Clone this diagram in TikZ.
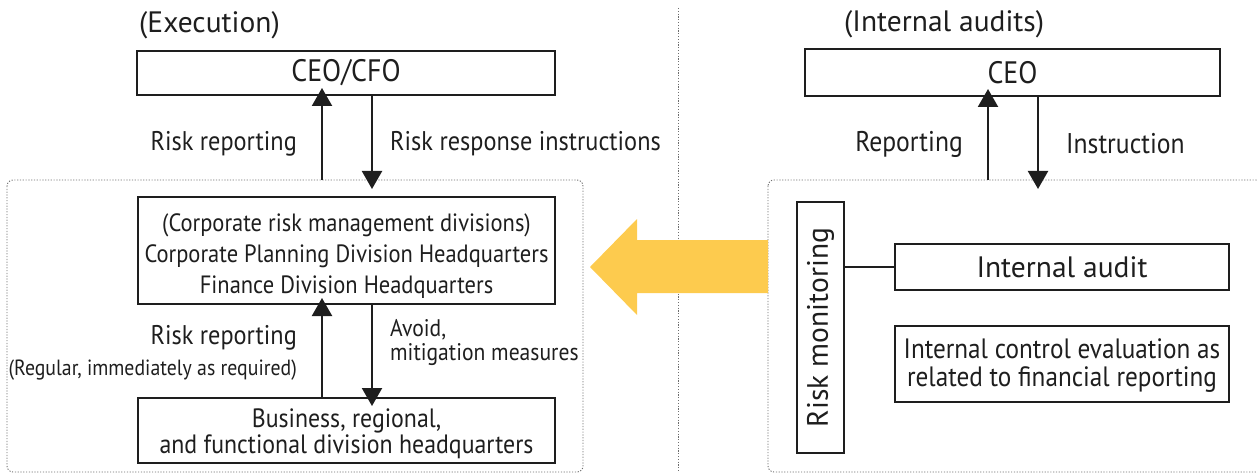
\documentclass[tikz,border=0pt]{standalone}
\usepackage{fontspec}
\setmainfont{PT Sans}
\newfontfamily\cond[FakeStretch=0.9]{PT Sans}
\usetikzlibrary{arrows.meta}
\definecolor{ink}{RGB}{30,30,30}
\definecolor{dotgray}{RGB}{110,110,110}
\definecolor{ylw}{RGB}{253,203,78}
\tikzset{
  box/.style={draw=ink, line width=2pt, fill=white, inner sep=0pt, align=center, text=ink},
  arr/.style={draw=ink, line width=2.2pt, -{Triangle[width=20pt,length=18pt]}},
  lbl/.style={inner sep=0pt, text=ink, font=\cond\fontsize{27}{30}\selectfont},
  dotbox/.style={draw=dotgray, line width=0.9pt, dash pattern=on 1.2pt off 1.6pt, rounded corners=6pt},
  head/.style={inner sep=0pt, anchor=west, text=ink, font=\fontsize{29.5}{32}\selectfont}
}
\begin{document}
\begin{tikzpicture}[x=1pt,y=-1pt]
\useasboundingbox (0,0) rectangle (1257,473);
% divider
\draw[dotgray, line width=0.9pt, dash pattern=on 1.2pt off 1.6pt] (678,8) -- (678,473);
% containers
\draw[dotbox] (7,180) rectangle (583,472);
\draw[dotbox] (768,180) rectangle (1262,472);
\coordinate (lc) at (295,180);
\coordinate (rc) at (1015,180);
% yellow arrow
\fill[ylw] (590,267) -- (637,219) -- (637,240) -- (768,240) -- (768,293) -- (637,293) -- (637,315) -- cycle;
% headings
\node[head] (hexe) at (139,25) {(Execution)};
\node[head] (hint) at (844,24) {(Internal audits)};
% left nodes
\node[box, minimum width=418pt, minimum height=44pt, font=\cond\fontsize{31}{32}\selectfont] (ceo) at (346,73) {CEO/CFO};
\node[box, minimum width=417pt, minimum height=107pt, font=\cond\fontsize{25}{31}\selectfont] (corp) at (346.5,250.5) {\rule{0pt}{28pt}(Corporate risk management divisions)\\Corporate Planning Division Headquarters\\Finance Division Headquarters};
\node[box, minimum width=417pt, minimum height=65pt, font=\cond\fontsize{26.5}{26}\selectfont] (bus) at (346.5,430.5) {\rule{0pt}{25pt}Business, regional,\\and functional division headquarters};
% left coordinates
\coordinate (ux) at (322,0);
\coordinate (dx) at (372,0);
\draw[arr] (lc -| ux) -- ([yshift=8pt]ceo.south -| ux);
\draw[arr] (ceo.south -| dx) -- ([yshift=-9pt]lc -| dx);
\draw[arr] (bus.north -| ux) -- ([yshift=7pt]corp.south -| ux);
\draw[arr] (corp.south -| dx) -- ([yshift=-9pt]bus.north -| dx);
\node[lbl, anchor=east] (l1) at (297,144) {Risk reporting};
\node[lbl, anchor=west] (l2) at (390,144) {Risk response instructions};
\node[lbl, anchor=east] (l3) at (297,338) {Risk reporting};
\node[lbl, anchor=east, font=\cond\fontsize{22}{24}\selectfont] (l4) at (297,370) {(Regular, immediately as required)};
\node[lbl, anchor=west, align=left, font=\cond\fontsize{24}{24}\selectfont] (l5) at (390,343) {Avoid,\\mitigation measures};
% right nodes
\node[box, minimum width=415pt, minimum height=47pt, font=\cond\fontsize{31}{32}\selectfont] (ceo2) at (1012.5,72.5) {CEO};
\coordinate (ux2) at (988,0);
\coordinate (dx2) at (1038,0);
\draw[arr] (rc -| ux2) -- ([yshift=8pt]ceo2.south -| ux2);
\draw[arr] (ceo2.south -| dx2) -- ([yshift=-9pt]rc -| dx2);
\node[lbl, anchor=east, font=\cond\fontsize{28.5}{30}\selectfont] (r1) at (963,144) {Reporting};
\node[lbl, anchor=west, font=\cond\fontsize{28.5}{30}\selectfont] (r2) at (1066,144) {Instruction};
\node[box, minimum width=47pt, minimum height=251pt] (rm) at (820.5,327.5) {};
\node[inner sep=0pt, rotate=90, text=ink, font=\fontsize{29.5}{30}\selectfont] (rmt) at (rm.center) {Risk monitoring};
\node[box, minimum width=334pt, minimum height=46pt, font=\fontsize{29.5}{30}\selectfont] (ia) at (1062,267) {Internal audit};
\node[box, minimum width=334pt, minimum height=76pt, font=\cond\fontsize{28}{28}\selectfont] (ic) at (1062,364) {\rule{0pt}{22pt}Internal control evaluation as\\related to financial reporting};
\draw[ink, line width=2pt] (rm.east |- ia.west) -- (ia.west);
\end{tikzpicture}
\end{document}
